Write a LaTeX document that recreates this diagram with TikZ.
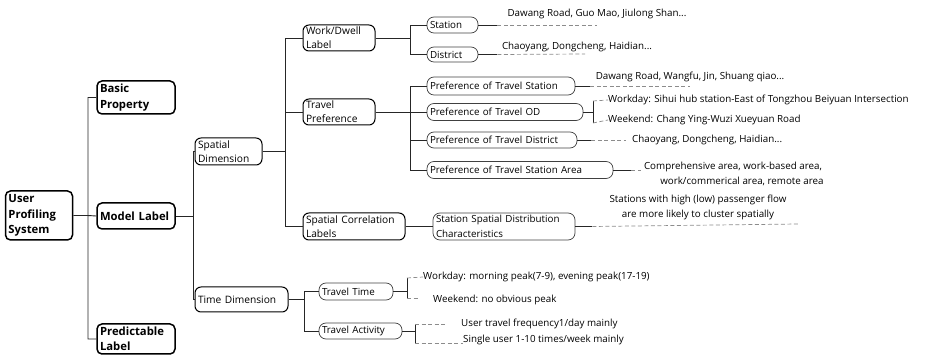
\documentclass[tikz,border=0pt]{standalone}
\usepackage{fontspec}
\setmainfont{Open Sans}
\usetikzlibrary{positioning}

\tikzstyle{topbox} = [draw, line width=1.5pt, rounded corners=5pt, align=left, inner xsep=3pt, inner ysep=1pt,
  font=\fontsize{11.3}{15.5}\selectfont\bfseries]
\tikzstyle{midbox} = [draw, line width=1pt, rounded corners=6pt, align=left, inner xsep=3pt, inner ysep=1pt,
  font=\fontsize{10.2}{14}\selectfont]
\tikzstyle{leafbox} = [draw, line width=0.7pt, draw=black!75, rounded corners=7pt, align=left, inner xsep=3pt, inner ysep=1pt,
  font=\fontsize{9.8}{14.5}\selectfont]
\tikzstyle{note} = [align=center, inner sep=0, font=\fontsize{9.8}{15}\selectfont]
\tikzstyle{link} = [line width=0.9pt, black!85]
\tikzstyle{dlink} = [line width=0.7pt, black!45, dashed, dash pattern=on 4pt off 2.5pt]

\begin{document}
\begin{tikzpicture}[x=1pt, y=-1pt]
  \useasboundingbox (0,0) rectangle (935,355);

  % first level
  \node at (39,215.5) [topbox, text width=61pt, minimum height=49pt] (root) {User\\Profiling\\System};
  \node at (136,97.5) [topbox, text width=72pt, minimum height=33pt] (basic) {Basic\\Property};
  \node at (136,216)  [topbox, text width=72pt, minimum height=26pt] (model) {Model Label};
  \node at (136,339)  [topbox, text width=72pt, minimum height=30pt] (pred) {Predictable\\Label};

  % dimensions
  \node at (228.5,151.5) [midbox, text width=61pt, minimum height=27pt] (spatial) {Spatial\\Dimension};
  \node at (241.5,299.5) [midbox, text width=87pt, minimum height=25pt] (time) {Time Dimension};

  % spatial labels
  \node at (339,38)    [midbox, text width=66pt, minimum height=26pt] (work) {Work/Dwell\\Label};
  \node at (339,112)   [midbox, text width=66pt, minimum height=26pt] (travel) {Travel\\Preference};
  \node at (354,226.5) [midbox, text width=96pt, minimum height=27pt] (corr) {Spatial Correlation\\Labels};

  \node at (452.5,25)   [leafbox, text width=45pt, minimum height=16pt] (station) {Station};
  \node at (452.5,54.5) [leafbox, text width=45pt, minimum height=15pt] (district) {District};

  \node at (501,86)  [leafbox, text width=142pt, minimum height=18pt] (pstation) {Preference of Travel Station};
  \node at (505,112) [leafbox, text width=150pt, minimum height=17pt] (pod) {Preference of Travel OD};
  \node at (502,140) [leafbox, text width=144pt, minimum height=16pt] (pdistrict) {Preference of Travel District};
  \node at (520,170) [leafbox, text width=180pt, minimum height=17pt] (parea) {Preference of Travel Station Area};

  \node at (504,226.5) [leafbox, text width=136pt, minimum height=27pt] (sdist) {Station Spatial Distribution\\Characteristics};

  % time labels
  \node at (356,291.5) [leafbox, text width=68pt, minimum height=17pt] (ttime) {Travel Time};
  \node at (360.5,331) [leafbox, text width=77pt, minimum height=16pt] (tact) {Travel Activity};

  % notes
  \node at (597,14)  [note] (n1) {Dawang Road, Guo Mao, Jiulong Shan...};
  \node at (577,47)  [note] (n2) {Chaoyang, Dongcheng, Haidian...};
  \node at (690,77)  [note] (n3) {Dawang Road, Wangfu, Jin, Shuang qiao...};
  \node at (608,100) [note, anchor=west] (n4) {Workday: Sihui hub station-East of Tongzhou Beiyuan Intersection};
  \node at (608,120) [note, anchor=west] (n5) {Weekend: Chang Ying-Wuzi Xueyuan Road};
  \node at (632,140) [note, anchor=west] (n6) {Chaoyang, Dongcheng, Haidian...};
  \node at (733,174) [note] (n7) {Comprehensive area, work-based area,\\\hspace*{18pt}work/commerical area, remote area};
  \node at (698,207) [note] (n8) {Stations with high (low) passenger flow\\are more likely to cluster spatially};
  \node at (423,277) [note, anchor=west] (n9) {Workday: morning peak(7-9), evening peak(17-19)};
  \node at (433,300) [note, anchor=west] (n10) {Weekend: no obvious peak};
  \node at (461,324) [note, anchor=west] (n11) {User travel frequency1/day mainly};
  \node at (463,340) [note, anchor=west] (n12) {Single user 1-10 times/week mainly};

  % junctions
  \coordinate (j0) at (88,215.5);
  \coordinate (j1) at (193,216);
  \coordinate (j2) at (285,151.5);
  \coordinate (j3) at (410,38);
  \coordinate (j4) at (410,112);
  \coordinate (j5) at (304,299.5);
  \coordinate (j6) at (407,291.5);
  \coordinate (j7) at (415,331);
  \coordinate (j8) at (593,112);

  \draw[link] (root.east) -- (j0) (j0) |- (basic.west) (j0) -- (model.west) (j0) |- (pred.west);
  \draw[link] (model.east) -- (j1) (j1) |- (spatial.west) (j1) |- (time.west);
  \draw[link] (spatial.east) -- (j2) (j2) |- (work.west) (j2) |- (travel.west) (j2) |- (corr.west);
  \draw[link] (work.east) -- (j3) (j3) |- (station.west) (j3) |- (district.west);
  \draw[link] (travel.east) -- (j4)
     (j4) |- (pstation.west) (j4) |- (pod.west) (j4) |- (pdistrict.west) (j4) |- (parea.west);
  \draw[link] (corr.east) -- (sdist.west);
  \draw[link] (time.east) -- (j5) (j5) |- (ttime.west) (j5) |- (tact.west);

  % leaf ends
  \coordinate (e1) at (597,25);
  \coordinate (e2) at (585,54);
  \coordinate (e3) at (690,86);
  \coordinate (e6) at (626,140);
  \coordinate (e7) at (641,170);
  \coordinate (e8) at (798,224);
  \draw[link, thin] (station.east) -- ++(19,0) coordinate (s1);   \draw[dlink] (s1) -- (e1);
  \draw[link, thin] (district.east) -- ++(19,0) coordinate (s2);  \draw[dlink] (s2) -- (e2);
  \draw[link, thin] (pstation.east) -- ++(15,0) coordinate (s3);  \draw[dlink] (s3) -- (e3);
  \draw[link, thin] (pdistrict.east) -- ++(14,0) coordinate (s6); \draw[dlink] (s6) -- (e6);
  \draw[link, thin] (parea.east) -- ++(18,0) coordinate (s7);     \draw[dlink] (s7) -- (e7);
  \draw[link, thin] (sdist.east) -- ++(17,0) coordinate (s8);     \draw[dlink] (s8) -- (e8);

  % brackets
  \draw[link, thin] (pod.east) -- (j8) (j8) ++(0,-11) -- ++(0,22);
  \draw[dlink] (j8) ++(0,-11) -- (n4.west);
  \draw[dlink] (j8) ++(0,11) -- (n5.west);

  \draw[link, thin] (ttime.east) -- (j6) (j6) ++(0,-13.5) -- ++(0,20);
  \draw[dlink] (j6) ++(0,-13.5) -- (n9.west);
  \draw[dlink] (j6) ++(0,6.5) -- ++(12,0);

  \draw[link, thin] (tact.east) -- (j7) (j7) ++(0,-7) -- ++(0,19);
  \draw[dlink] (j7) ++(0,-7) -- ++(30,0);
  \draw[dlink] (j7) ++(0,12) -- (n12.west |- 0,343);
\end{tikzpicture}
\end{document}
